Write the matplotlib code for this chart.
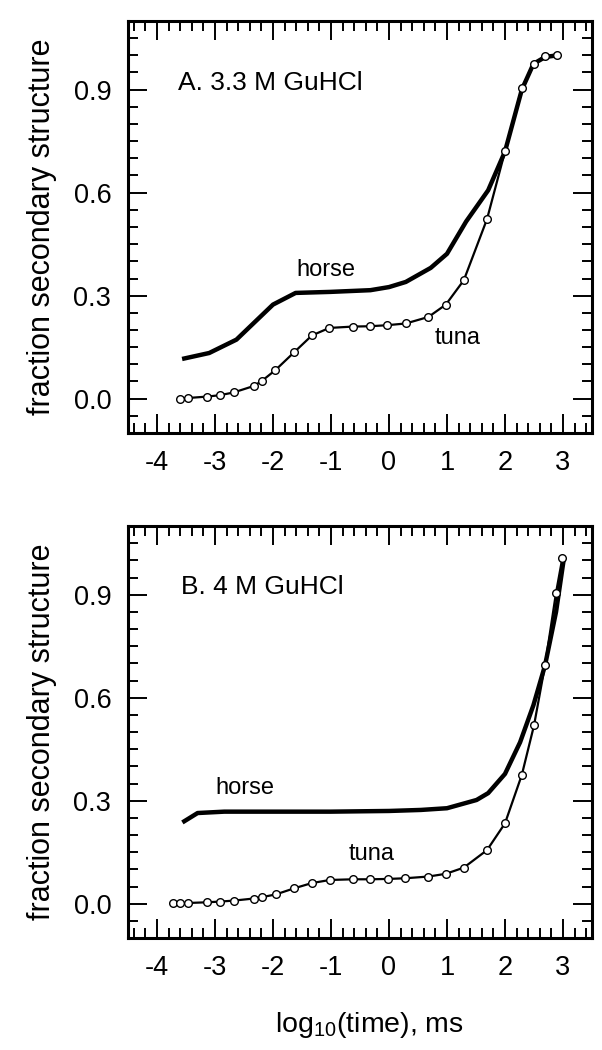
import matplotlib
matplotlib.use("Agg")
import matplotlib.pyplot as plt
from matplotlib.ticker import MultipleLocator

plt.rcParams["font.family"] = ["Liberation Sans", "DejaVu Sans"]
plt.rcParams["mathtext.fontset"] = "custom"
plt.rcParams["mathtext.rm"] = "Liberation Sans"
plt.rcParams["axes.unicode_minus"] = False

# panel A: 3.3 M GuHCl
horse_a_x = [-3.53, -3.10, -2.63, -2.00, -1.61, -1.01, -0.32, 0.00, 0.29, 0.72, 1.00, 1.33, 1.71, 2.00, 2.29, 2.49, 2.69, 2.90]
horse_a_y = [0.117, 0.133, 0.172, 0.274, 0.308, 0.311, 0.316, 0.325, 0.340, 0.381, 0.422, 0.516, 0.607, 0.720, 0.900, 0.975, 0.995, 1.000]
tuna_a_x = [-3.61, -3.46, -3.14, -2.92, -2.68, -2.33, -2.19, -1.96, -1.63, -1.33, -1.03, -0.62, -0.32,
            -0.03, 0.29, 0.68, 0.98, 1.29, 1.69, 2.00, 2.29, 2.50, 2.69, 2.90]
tuna_a_y = [0.000, 0.002, 0.006, 0.010, 0.018, 0.037, 0.052, 0.083, 0.136, 0.184, 0.206, 0.210, 0.211,
            0.214, 0.219, 0.238, 0.274, 0.345, 0.523, 0.720, 0.905, 0.976, 0.998, 1.002]

# panel B: 4 M GuHCl
horse_b_x = [-3.53, -3.30, -2.84, -1.01, 0.00, 0.55, 1.00, 1.51, 1.71, 2.00, 2.26, 2.49, 2.69, 2.88, 3.01]
horse_b_y = [0.240, 0.264, 0.268, 0.268, 0.270, 0.273, 0.278, 0.302, 0.322, 0.378, 0.470, 0.578, 0.694, 0.850, 1.000]
tuna_b_x = [-3.73, -3.60, -3.46, -3.14, -2.92, -2.67, -2.33, -2.19, -1.95, -1.63, -1.33, -1.02, -0.62,
            -0.32, -0.02, 0.28, 0.68, 0.98, 1.29, 1.69, 2.00, 2.29, 2.50, 2.69, 2.88, 2.99]
tuna_b_y = [0.002, 0.002, 0.002, 0.004, 0.006, 0.009, 0.015, 0.019, 0.027, 0.045, 0.060, 0.069, 0.071,
            0.071, 0.072, 0.074, 0.079, 0.087, 0.105, 0.156, 0.234, 0.375, 0.519, 0.694, 0.906, 1.008]

titles = ["A. 3.3 M GuHCl", "B. 4 M GuHCl"]

W, H = 602, 1050
fig = plt.figure(figsize=(W / 100, H / 100), dpi=100)

# axes boxes in pixels (left, top, right, bottom) and label spots
boxes = [(128, 21, 592, 433), (128, 526, 592, 938)]
title_pos = [(178, 83), (181, 587)]
horse_pos = [(326, 270), (245, 788)]
tuna_pos = [(458, 338), (372, 854)]
series = [(horse_a_x, horse_a_y, tuna_a_x, tuna_a_y), (horse_b_x, horse_b_y, tuna_b_x, tuna_b_y)]

for i, (hx, hy, tx, ty) in enumerate(series):
    x0, y0, x1, y1 = boxes[i]
    ax = fig.add_axes([x0 / W, 1 - y1 / H, (x1 - x0) / W, (y1 - y0) / H])
    ax.plot(hx, hy, color="black", lw=3.2, solid_joinstyle="round")
    ax.plot(tx, ty, color="black", lw=1.6, marker="o", ms=5.5, mfc="white", mec="black", mew=1.0)
    ax.set_xlim(-4.5, 3.5)
    ax.set_ylim(-0.1, 1.1)
    ax.xaxis.set_major_locator(MultipleLocator(1))
    ax.xaxis.set_minor_locator(MultipleLocator(0.2))
    ax.yaxis.set_major_locator(MultipleLocator(0.3))
    ax.yaxis.set_minor_locator(MultipleLocator(0.05))
    ax.yaxis.set_major_formatter(plt.FormatStrFormatter("%.1f"))
    ax.tick_params(which="both", direction="in", top=True, right=True, width=1.4, labelsize=19.5, pad=12)
    ax.tick_params(which="major", length=14)
    ax.tick_params(which="minor", length=7.5)
    for s in ax.spines.values():
        s.set_linewidth(2.2)
    ax.set_ylabel("fraction secondary structure", fontsize=22, labelpad=12)

    fig.text(title_pos[i][0] / W, 1 - title_pos[i][1] / H, titles[i], fontsize=19, va="center", ha="left")
    fig.text(horse_pos[i][0] / W, 1 - horse_pos[i][1] / H, "horse", fontsize=17, va="center", ha="center")
    fig.text(tuna_pos[i][0] / W, 1 - tuna_pos[i][1] / H, "tuna", fontsize=17, va="center", ha="center")

ax.set_xlabel(r"log$_{10}$(time), ms", fontsize=20.5, labelpad=20)
ax.xaxis.set_label_coords(0.52, -0.175)

fig.savefig("out.png", dpi=100)
